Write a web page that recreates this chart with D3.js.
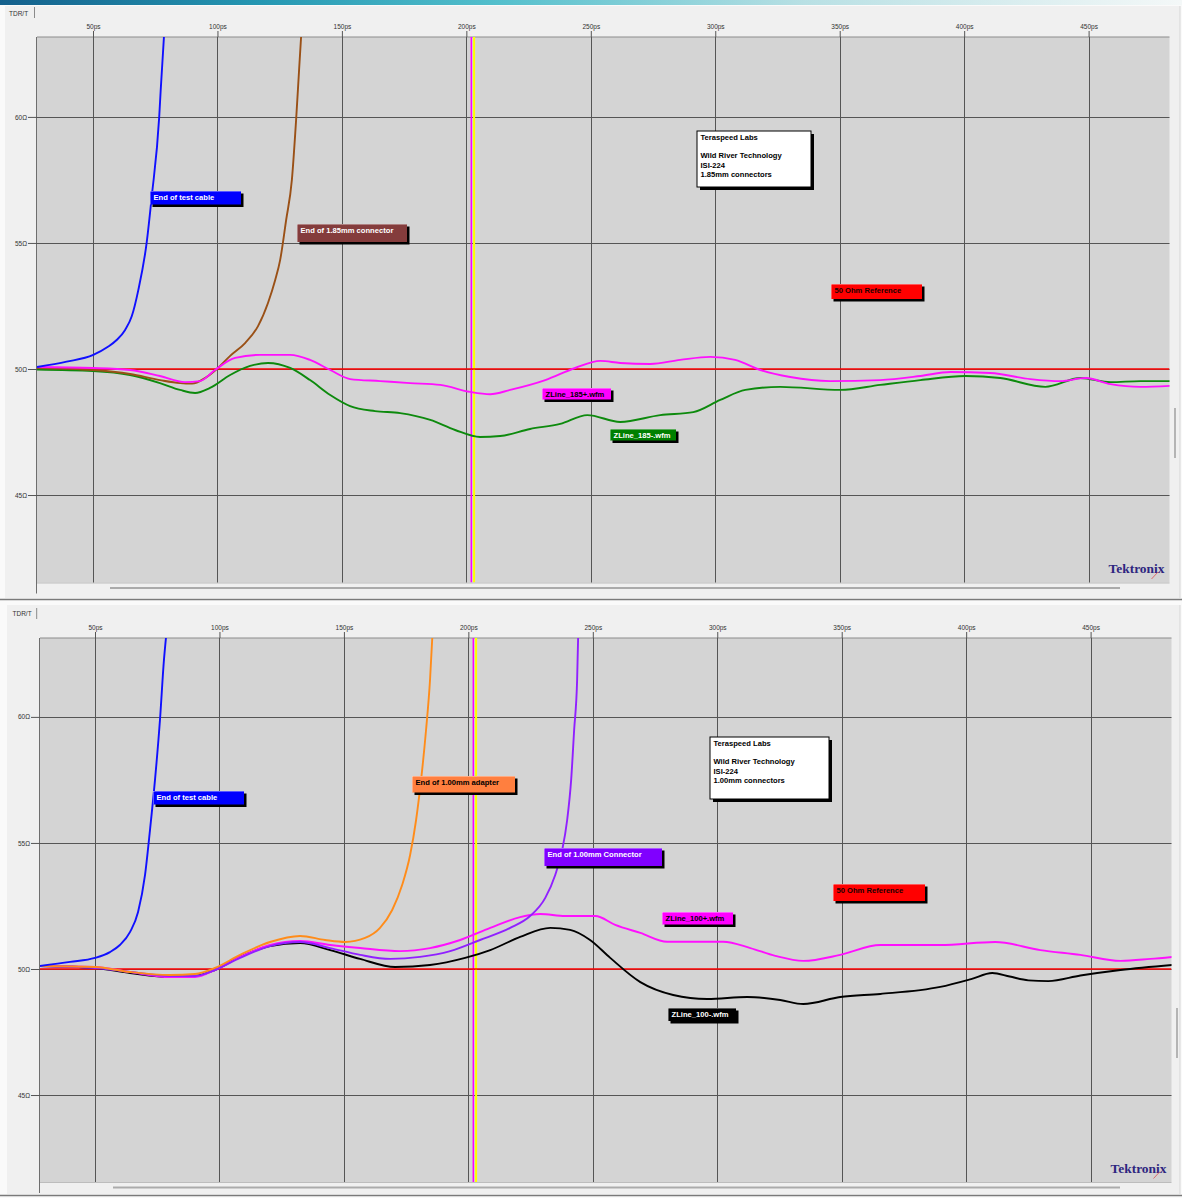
<!DOCTYPE html>
<html>
<head>
<meta charset="utf-8">
<script src="https://cdn.jsdelivr.net/npm/d3@7"></script>
<style>
  html, body { margin: 0; padding: 0; background: #ffffff; }
  svg { display: block; }
</style>
</head>
<body>
<svg id="chart" width="1182" height="1198"></svg>
<script>
// ---- axis ticks ----
const xTicks = [50, 100, 150, 200, 250, 300, 350, 400, 450];
const xTickLabels = ["50ps", "100ps", "150ps", "200ps", "250ps", "300ps", "350ps", "400ps", "450ps"];
const yTicks = [45, 50, 55, 60];
const yTickLabels = ["45\u03A9", "50\u03A9", "55\u03A9", "60\u03A9"];
const referenceOhms = 50;
const cursorTimes = [202.0, 203.1];   // magenta and yellow cursors (ps)

// ---- 1.85mm fixture: [time ps, impedance ohm] ----
const testCable185 = [[27.5,50.08],[39.4,50.29],[50.1,50.56],[56.0,50.88],[59.5,51.15],[62.9,51.55],[65.6,52.1],[68.2,53.13],[71.6,55.04],[73.6,56.84],[76.6,60.0],[77.2,61.07],[78.5,63.17]];
const connector185 = [[27.5,50.04],[50,49.96],[64.9,49.8],[76.9,49.56],[85.0,49.44],[89.8,49.42],[95.0,49.64],[100.2,50.04],[105.1,50.52],[111.1,51.03],[116.3,51.7],[120.3,52.62],[123.2,53.53],[125.2,54.33],[127.6,55.91],[129.9,57.5],[131.6,59.88],[132.8,61.87],[133.6,63.17]];
const zline185p = [[27.5,50.08],[50,50.04],[64.9,49.96],[76.9,49.72],[87.0,49.48],[93.0,49.52],[99.0,49.96],[107.1,50.44],[117.1,50.56],[129.2,50.56],[137.2,50.36],[145.3,49.96],[153.3,49.6],[165.4,49.52],[177.4,49.44],[189.5,49.37],[201.5,49.09],[209.6,49.0],[217.6,49.17],[231.7,49.56],[243.7,50.04],[253.8,50.32],[261.8,50.24],[273.9,50.2],[285.9,50.36],[298.0,50.48],[308.0,50.36],[318.1,49.96],[330.1,49.68],[346.2,49.52],[366.3,49.56],[382.4,49.72],[394.5,49.88],[410.5,49.84],[426.6,49.6],[438.7,49.52],[448.7,49.64],[458.8,49.4],[470.8,49.29],[482.9,49.33]];
const zline185m = [[27.5,49.98],[50,49.92],[64.9,49.76],[76.9,49.44],[85.0,49.17],[91.0,49.05],[97.0,49.25],[105.1,49.76],[113.1,50.12],[120.3,50.24],[129.2,50.04],[137.2,49.56],[145.3,48.97],[153.3,48.53],[163.3,48.33],[173.4,48.25],[185.5,47.98],[195.5,47.58],[205.5,47.3],[213.6,47.34],[225.6,47.62],[237.7,47.82],[248.6,48.17],[261.8,47.9],[277.9,48.17],[291.2,48.29],[302.0,48.77],[312.1,49.17],[326.1,49.29],[350.2,49.17],[366.3,49.37],[382.4,49.56],[400.5,49.72],[414.5,49.64],[432.6,49.29],[446.7,49.64],[458.8,49.48],[470.8,49.52],[482.9,49.52]];

// ---- 1.00mm fixture ----
const testCable100 = [[27.9,50.12],[40.0,50.28],[50,50.44],[56.0,50.67],[60.0,50.95],[64.1,51.47],[67.3,52.26],[70.1,53.73],[72.1,55.52],[74.1,57.5],[76.1,59.88],[77.7,62.26],[78.5,63.13]];
const adapter100 = [[27.9,50.12],[50,50.08],[64.1,49.88],[80.1,49.76],[90.2,49.8],[98.2,50.04],[108.3,50.56],[120.3,51.07],[132.4,51.31],[142.4,51.15],[150.5,51.07],[158.5,51.23],[164.5,51.63],[169.4,52.34],[173.4,53.33],[176.6,54.52],[179.0,55.91],[181.0,57.5],[183.0,59.48],[184.6,61.47],[185.5,63.13]];
const connector100 = [[27.9,50.12],[50,50.04],[64.1,49.88],[80.1,49.72],[90.2,49.72],[98.2,49.96],[108.3,50.44],[120.3,50.91],[132.4,51.07],[144.5,50.83],[156.5,50.56],[168.6,50.4],[180.6,50.48],[192.7,50.71],[204.7,51.15],[216.8,51.63],[224.8,52.1],[230.9,52.82],[234.9,53.73],[237.7,54.72],[239.7,55.91],[241.3,57.5],[242.5,59.48],[243.7,61.47],[244.1,63.13]];
const zline100p = [[27.9,50.12],[50,50.08],[64.1,49.88],[80.1,49.68],[90.2,49.68],[98.2,49.96],[108.3,50.48],[120.3,50.95],[132.4,51.11],[144.5,50.95],[156.5,50.83],[172.6,50.71],[184.6,50.83],[196.7,51.15],[208.8,51.63],[220.8,52.06],[228.9,52.18],[238.9,52.1],[251.0,52.1],[259.0,51.75],[269.1,51.43],[279.9,51.08],[302.4,51.08],[313.3,50.83],[323.3,50.52],[334.6,50.32],[349.4,50.56],[365.5,50.95],[389.6,50.95],[411.7,51.07],[429.8,50.75],[445.9,50.56],[462.0,50.32],[474.0,50.4],[482.9,50.48]];
const zline100m = [[27.9,50.12],[50,50.04],[64.1,49.84],[80.1,49.68],[90.2,49.72],[98.2,49.96],[108.3,50.48],[120.3,50.91],[132.4,51.03],[144.5,50.75],[156.5,50.4],[170.6,50.08],[184.6,50.16],[198.7,50.44],[208.8,50.75],[220.8,51.27],[232.9,51.63],[240.9,51.55],[248.9,51.15],[257.0,50.44],[269.1,49.48],[282.3,48.97],[296.0,48.81],[312.1,48.89],[325.3,48.77],[334.6,48.61],[349.4,48.89],[365.5,49.01],[389.6,49.29],[402.0,49.6],[410.5,49.84],[417.5,49.7],[425.0,49.55],[433.0,49.52],[445.9,49.74],[462.0,49.96],[482.9,50.16]];

// ---- annotation text ----
const infoLines185 = ["Teraspeed Labs", "", "Wild River Technology", "ISI-224", "1.85mm connectors"];
const infoLines100 = ["Teraspeed Labs", "", "Wild River Technology", "ISI-224", "1.00mm connectors"];

// ---- panel layouts ----
const panels = [
  {
    frame: { x: 5, y: 6, w: 1175, h: 592 },
    tab: { x: 9, y: 15.5, line: 34.5, lineTop: 7, lineBottom: 18 },
    plot: { left: 37, top: 37, right: 1169.5, bottom: 582.5 },
    xDomain: [27.5, 482.5], yDomain: [41.53, 63.17],
    vThumb: [408, 458],
    traces: [
      { data: zline185m, color: "#0d8a0d" },
      { data: connector185, color: "#9a5016" },
      { data: zline185p, color: "#ff10ff" },
      { data: testCable185, color: "#1010ff" }
    ],
    notes: [
      { lines: ["End of test cable"], t: 72.9, z: 57.08, w: 91, h: 13.5, fill: "#0000ff", color: "#ffffff" },
      { lines: ["End of 1.85mm connector"], t: 132.0, z: 55.75, w: 110, h: 18, fill: "#843c3c", color: "#ffffff" },
      { lines: infoLines185, t: 292.8, z: 59.44, w: 114, h: 56, fill: "#ffffff", color: "#000000", boxed: true },
      { lines: ["50 Ohm Reference"], t: 346.6, z: 53.39, w: 91, h: 15, fill: "#ff0000", color: "#200000" },
      { lines: ["ZLine_185+.wfm"], t: 230.2, z: 49.23, w: 69, h: 11.5, fill: "#ff00ff", color: "#000000" },
      { lines: ["ZLine_185-.wfm"], t: 257.8, z: 47.61, w: 66, h: 11.5, fill: "#008000", color: "#ffffff" }
    ]
  },
  {
    frame: { x: 7, y: 605, w: 1173, h: 589 },
    tab: { x: 12.5, y: 616, line: 36.7, lineTop: 608, lineBottom: 619 },
    plot: { left: 40, top: 638, right: 1171.5, bottom: 1182 },
    xDomain: [27.9, 482.5], yDomain: [41.55, 63.13],
    vThumb: [1008, 1058],
    traces: [
      { data: zline100m, color: "#000000" },
      { data: zline100p, color: "#ff10ff" },
      { data: connector100, color: "#9020ff" },
      { data: adapter100, color: "#ff8c1a" },
      { data: testCable100, color: "#1010ff" }
    ],
    notes: [
      { lines: ["End of test cable"], t: 73.3, z: 57.06, w: 91, h: 13.5, fill: "#0000ff", color: "#ffffff" },
      { lines: ["End of 1.00mm adapter"], t: 177.3, z: 57.67, w: 103, h: 16.5, fill: "#ff7f3f", color: "#000000" },
      { lines: ["End of 1.00mm Connector"], t: 230.2, z: 54.79, w: 118, h: 18, fill: "#8000ff", color: "#ffffff" },
      { lines: infoLines100, t: 297.2, z: 59.21, w: 119, h: 62, fill: "#ffffff", color: "#000000", boxed: true },
      { lines: ["50 Ohm Reference"], t: 346.5, z: 53.37, w: 92, h: 17, fill: "#ff0000", color: "#200000" },
      { lines: ["ZLine_100+.wfm"], t: 277.8, z: 52.25, w: 71, h: 12.5, fill: "#ff00ff", color: "#000000" },
      { lines: ["ZLine_100-.wfm"], t: 280.4, z: 48.44, w: 68, h: 13, fill: "#000000", color: "#ffffff" }
    ]
  }
];

const svg = d3.select("#chart");
const defs = svg.append("defs");

// window title strip gradient
const grad = defs.append("linearGradient").attr("id", "titleStrip").attr("x1", "0").attr("x2", "1").attr("y1", "0").attr("y2", "0");
[["0%", "#14608c"], ["22%", "#2597b2"], ["42%", "#53bfcc"], ["68%", "#b8e0e4"], ["100%", "#f4f8f8"]].forEach(([o, c]) =>
  grad.append("stop").attr("offset", o).attr("stop-color", c));

svg.append("rect").attr("x", 0).attr("y", 0).attr("width", 1182).attr("height", 1198).attr("fill", "#fafafa");
svg.append("rect").attr("x", 0).attr("y", 0).attr("width", 1182).attr("height", 5).attr("fill", "url(#titleStrip)");

const tickFont = "'Liberation Sans', Arial, sans-serif";
const noteFont = "'Liberation Sans', Arial, sans-serif";

panels.forEach((p, i) => {
  const g = svg.append("g");
  const { left, top, right, bottom } = p.plot;

  // panel frame
  g.append("rect").attr("x", p.frame.x).attr("y", p.frame.y).attr("width", p.frame.w).attr("height", p.frame.h)
    .attr("fill", "#f0f0f0");
  g.append("line").attr("x1", p.frame.x + p.frame.w).attr("x2", p.frame.x + p.frame.w)
    .attr("y1", p.frame.y).attr("y2", p.frame.y + p.frame.h).attr("stroke", "#d6d6d6");
  g.append("line").attr("x1", 0).attr("x2", 1182)
    .attr("y1", p.frame.y + p.frame.h + 1.5).attr("y2", p.frame.y + p.frame.h + 1.5)
    .attr("stroke", "#7a7a7a").attr("stroke-width", 1.5);

  // tab caption
  g.append("text").attr("x", p.tab.x).attr("y", p.tab.y).text("TDR/T")
    .attr("font-family", tickFont).attr("font-size", "6.5px").attr("fill", "#333");
  g.append("line").attr("x1", p.tab.line).attr("x2", p.tab.line).attr("y1", p.tab.lineTop).attr("y2", p.tab.lineBottom)
    .attr("stroke", "#8a8a8a");

  const x = d3.scaleLinear().domain(p.xDomain).range([left, right]);
  const y = d3.scaleLinear().domain(p.yDomain).range([bottom, top]);

  // plot background
  g.append("rect").attr("x", left).attr("y", top).attr("width", right - left).attr("height", bottom - top)
    .attr("fill", "#d4d4d4");

  // left border running down past the scroll strip
  g.append("line").attr("x1", left - 0.5).attr("x2", left - 0.5).attr("y1", top).attr("y2", bottom + 11)
    .attr("stroke", "#6e6e6e");
  g.append("line").attr("x1", left).attr("x2", right).attr("y1", top).attr("y2", top)
    .attr("stroke", "#8c8c8c");
  g.append("line").attr("x1", left).attr("x2", right).attr("y1", bottom + 0.5).attr("y2", bottom + 0.5)
    .attr("stroke", "#bdbdbd");

  // horizontal scroll bar
  g.append("rect").attr("x", 110 + (i ? 3 : 0)).attr("y", bottom + 4.5).attr("width", 1010 - (i ? 3 : 0)).attr("height", 2)
    .attr("fill", "#ababab");
  // vertical scroll thumb
  g.append("rect").attr("x", right + 4.5).attr("y", p.vThumb[0]).attr("width", 2).attr("height", p.vThumb[1] - p.vThumb[0])
    .attr("fill", "#b4b4b4");

  // grid + ticks
  const gridColor = "#555555";
  const xAxis = d3.axisTop(x).tickValues(xTicks).tickFormat((d, k) => xTickLabels[k])
    .tickSize(6).tickSizeOuter(0);
  const xg = g.append("g").attr("transform", `translate(0,${top})`).call(xAxis);
  xg.select(".domain").remove();
  xg.selectAll(".tick line").attr("stroke", gridColor);
  xg.selectAll(".tick text").attr("font-family", tickFont).attr("font-size", "6.5px").attr("fill", "#333").attr("dy", "0.1em");

  const yAxis = d3.axisLeft(y).tickValues(yTicks).tickFormat((d, k) => yTickLabels[k])
    .tickSize(9).tickSizeOuter(0).tickPadding(1);
  const yg = g.append("g").attr("transform", `translate(${left},0)`).call(yAxis);
  yg.select(".domain").remove();
  yg.selectAll(".tick line").attr("stroke", gridColor);
  yg.selectAll(".tick text").attr("font-family", tickFont).attr("font-size", "6.5px").attr("fill", "#333");

  g.append("g").selectAll("line").data(xTicks).join("line")
    .attr("x1", d => Math.round(x(d)) + 0.5).attr("x2", d => Math.round(x(d)) + 0.5)
    .attr("y1", top).attr("y2", bottom).attr("stroke", gridColor).attr("stroke-width", 1);
  g.append("g").selectAll("line").data(yTicks).join("line")
    .attr("x1", left).attr("x2", right)
    .attr("y1", d => Math.round(y(d)) + 0.5).attr("y2", d => Math.round(y(d)) + 0.5)
    .attr("stroke", gridColor).attr("stroke-width", 1);

  // clip for traces
  const clipId = "plotClip" + i;
  defs.append("clipPath").attr("id", clipId).append("rect")
    .attr("x", left).attr("y", top).attr("width", right - left).attr("height", bottom - top);
  const inner = g.append("g").attr("clip-path", `url(#${clipId})`);

  // cursors
  inner.append("line").attr("x1", x(cursorTimes[0])).attr("x2", x(cursorTimes[0])).attr("y1", top).attr("y2", bottom)
    .attr("stroke", "#ff00ff").attr("stroke-width", 1.5);
  inner.append("line").attr("x1", x(cursorTimes[1])).attr("x2", x(cursorTimes[1])).attr("y1", top).attr("y2", bottom)
    .attr("stroke", "#ffff00").attr("stroke-width", 2);

  // 50 ohm reference
  inner.append("line").attr("x1", left).attr("x2", right).attr("y1", y(referenceOhms)).attr("y2", y(referenceOhms))
    .attr("stroke", "#ff0000").attr("stroke-width", 1.6);

  // traces
  const line = d3.line().x(d => x(d[0])).y(d => y(d[1])).curve(d3.curveMonotoneX);
  p.traces.forEach(tr => {
    inner.append("path").datum(tr.data).attr("d", line)
      .attr("fill", "none").attr("stroke", tr.color).attr("stroke-width", 1.9).attr("stroke-linejoin", "round");
  });

  // annotation boxes
  p.notes.forEach(n => {
    const ng = inner.append("g").attr("transform", `translate(${Math.round(x(n.t))},${Math.round(y(n.z))})`);
    const sh = n.boxed ? 3 : 2.5;
    ng.append("rect").attr("x", sh).attr("y", sh).attr("width", n.w).attr("height", n.h).attr("fill", "#000");
    ng.append("rect").attr("x", 0).attr("y", 0).attr("width", n.w).attr("height", n.h).attr("fill", n.fill)
      .attr("stroke", n.boxed ? "#000" : "none").attr("stroke-width", 1);
    if (!n.boxed) {
      ng.append("line").attr("x1", 0).attr("x2", n.w).attr("y1", 0.5).attr("y2", 0.5).attr("stroke", "#ffffff").attr("stroke-opacity", 0.35);
      ng.append("line").attr("x1", 0.5).attr("x2", 0.5).attr("y1", 0).attr("y2", n.h).attr("stroke", "#ffffff").attr("stroke-opacity", 0.35);
    }
    n.lines.forEach((t, k) => {
      ng.append("text").attr("x", 3.5).attr("y", 8.5 + k * 9.4).text(t)
        .attr("font-family", noteFont).attr("font-size", "7.6px").attr("font-weight", "bold").attr("fill", n.color);
    });
  });

  // maker mark
  g.append("text").attr("x", right - 5).attr("y", bottom - 9.5).attr("text-anchor", "end").text("Tektronix")
    .attr("font-family", "'Liberation Serif', 'Times New Roman', serif").attr("font-weight", "bold")
    .attr("font-size", "11.5px").attr("fill", "#2e2680").attr("textLength", 56).attr("lengthAdjust", "spacingAndGlyphs");
  g.append("line").attr("x1", right - 11.5).attr("y1", bottom - 10.5).attr("x2", right - 18).attr("y2", bottom - 3.5)
    .attr("stroke", "#e05050").attr("stroke-width", 0.8);
});
</script>
</body>
</html>
